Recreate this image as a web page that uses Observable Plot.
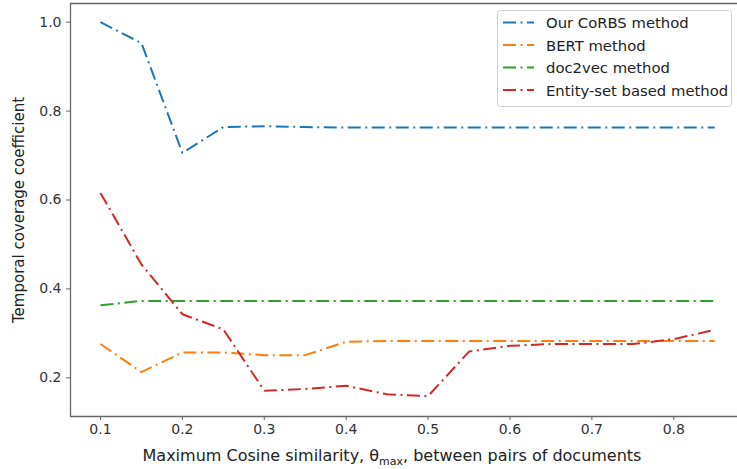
<!DOCTYPE html>
<html>
<head>
<meta charset="utf-8">
<script src="https://cdn.jsdelivr.net/npm/d3@7"></script>
<script src="https://cdn.jsdelivr.net/npm/@observablehq/plot@0.6"></script>
<style>
  html, body { margin: 0; padding: 0; background: #fff; }
  #chart svg { display: block; }
</style>
</head>
<body>
<div id="chart"></div>
<script>
// ---- data ----
const thetaMax = [0.1, 0.15, 0.2, 0.25, 0.3, 0.35, 0.4, 0.45, 0.5, 0.55, 0.6, 0.65, 0.7, 0.75, 0.8, 0.85];
const corbs   = [1.0, 0.953, 0.706, 0.764, 0.766, 0.764, 0.763, 0.763, 0.763, 0.763, 0.763, 0.763, 0.763, 0.763, 0.763, 0.763];
const bert    = [0.276, 0.213, 0.257, 0.257, 0.251, 0.251, 0.281, 0.283, 0.283, 0.283, 0.283, 0.283, 0.283, 0.283, 0.283, 0.283];
const doc2vec = [0.363, 0.373, 0.373, 0.373, 0.373, 0.373, 0.373, 0.373, 0.373, 0.373, 0.373, 0.373, 0.373, 0.373, 0.373, 0.373];
const entity  = [0.616, 0.455, 0.343, 0.309, 0.171, 0.175, 0.182, 0.163, 0.159, 0.259, 0.272, 0.276, 0.276, 0.276, 0.287, 0.308];

const seriesNames  = ["Our CoRBS method", "BERT method", "doc2vec method", "Entity-set based method"];
const seriesValues = [corbs, bert, doc2vec, entity];
const seriesColors = ["#1f77b4", "#ff7f0e", "#2ca02c", "#d62728"];

const xTicks = [0.1, 0.2, 0.3, 0.4, 0.5, 0.6, 0.7, 0.8];
const yTicks = [0.2, 0.4, 0.6, 0.8, 1.0];
const xDomain = [0.0634, 0.8778];
const yDomain = [0.113, 1.042];

const yLabel = "Temporal coverage coefficient";
const xLabelParts = ["Maximum Cosine similarity, θ", "max", ", between pairs of documents"];

// tidy table
const rows = [];
seriesNames.forEach((name, i) => {
  thetaMax.forEach((x, j) => rows.push({series: name, x, y: seriesValues[i][j]}));
});

const FONT = "DejaVu Sans, sans-serif";
const DASH = "13,4.5,2,4.5";
const AXIS_COLOR = "#666";

const chart = Plot.plot({
  width: 737,
  height: 469,
  marginLeft: 70,
  marginRight: 0,
  marginTop: 3,
  marginBottom: 53,
  style: {fontFamily: FONT, fontSize: "14px", color: "#333", background: "#fff"},
  x: {domain: xDomain, ticks: xTicks, tickFormat: d3.format(".1f"), label: null},
  y: {domain: yDomain, ticks: yTicks, tickFormat: d3.format(".1f"), label: null},
  color: {domain: seriesNames, range: seriesColors},
  marks: [
    Plot.axisX({ticks: xTicks, tickFormat: d3.format(".1f"), tickSize: 4, tickPadding: 4, stroke: AXIS_COLOR, fill: "#333", fontSize: 14, label: null}),
    Plot.axisY({ticks: yTicks, tickFormat: d3.format(".1f"), tickSize: 4, tickPadding: 5, stroke: AXIS_COLOR, fill: "#333", fontSize: 14, label: null}),
    Plot.ruleX([xDomain[0]], {stroke: AXIS_COLOR, strokeWidth: 1.3}),
    Plot.ruleY([yDomain[0]], {stroke: AXIS_COLOR, strokeWidth: 1.3}),
    Plot.ruleY([yDomain[1]], {stroke: AXIS_COLOR, strokeWidth: 1.3}),
    Plot.line(rows, {x: "x", y: "y", z: "series", stroke: "series",
      strokeWidth: 2, strokeDasharray: DASH, strokeLinecap: "butt", strokeLinejoin: "round"})
  ]
});

document.getElementById("chart").appendChild(chart);

// ---- labels & legend (annotations) ----
const svg = d3.select(chart);

svg.append("text")
  .attr("transform", "translate(18.5,210) rotate(-90)")
  .attr("text-anchor", "middle")
  .attr("dominant-baseline", "central")
  .style("font-family", FONT).style("font-size", "15px").attr("fill", "#222")
  .text(yLabel);

const xl = svg.append("text")
  .attr("x", 392).attr("y", 461)
  .attr("text-anchor", "middle")
  .style("font-family", FONT).style("font-size", "16px").attr("fill", "#222");
xl.append("tspan").text(xLabelParts[0]);
xl.append("tspan").attr("dy", 4).style("font-size", "11px").text(xLabelParts[1]);
xl.append("tspan").attr("dy", -4).text(xLabelParts[2]);

const lg = svg.append("g");
lg.append("rect")
  .attr("x", 497.5).attr("y", 10.5).attr("width", 234).attr("height", 96).attr("rx", 3)
  .attr("fill", "#fff").attr("fill-opacity", 0.85).attr("stroke", "#d0d0d0");
seriesNames.forEach((name, i) => {
  const cy = 22.5 + i * 22.5;
  lg.append("line").attr("x1", 503).attr("x2", 534).attr("y1", cy).attr("y2", cy)
    .attr("stroke", seriesColors[i]).attr("stroke-width", 2).attr("stroke-dasharray", DASH);
  lg.append("text").attr("x", 546).attr("y", cy)
    .attr("text-anchor", "start").attr("dominant-baseline", "central")
    .style("font-family", FONT).style("font-size", "14.8px").attr("fill", "#222").text(name);
});
</script>
</body>
</html>
